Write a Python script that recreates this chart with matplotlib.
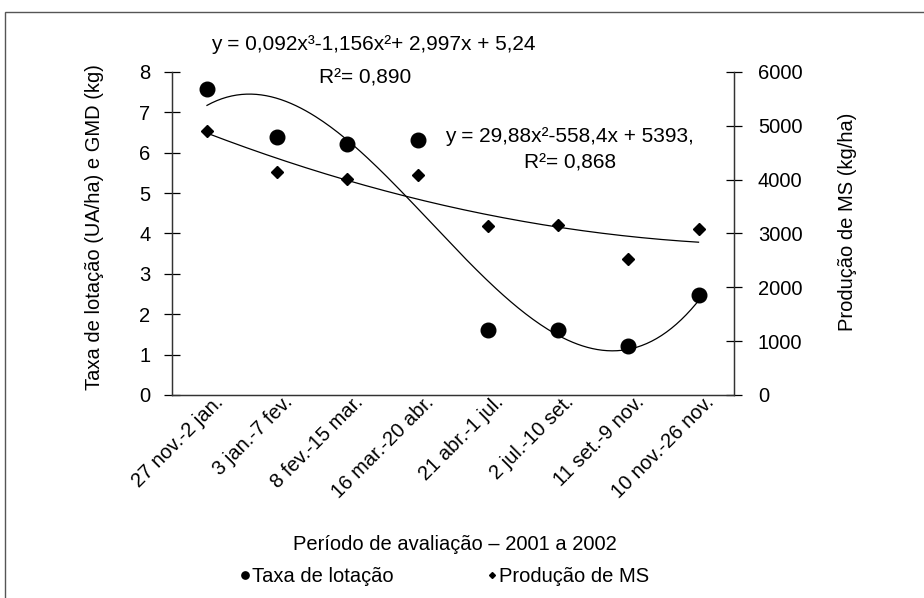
import matplotlib.pyplot as plt
import numpy as np
from matplotlib.patches import Rectangle
from matplotlib.transforms import ScaledTranslation

plt.rcParams['font.family'] = ['Liberation Sans', 'DejaVu Sans']

periodos = ['27 nov.-2 jan.', '3 jan.-7 fev.', '8 fev.-15 mar.', '16 mar.-20 abr.',
            '21 abr.-1 jul.', '2 jul.-10 set.', '11 set.-9 nov.', '10 nov.-26 nov.']
taxa_lotacao = [7.57, 6.40, 6.21, 6.32, 1.61, 1.61, 1.22, 2.48]
producao_ms = [4910, 4140, 4017, 4091, 3130, 3155, 2522, 3080]

# trendline coefficients as printed on the chart
coef_taxa = [0.092, -1.156, 2.997, 5.24]
coef_ms = [29.88, -558.4, 5393]

fs = 14.5

x = np.arange(1, len(periodos) + 1)
xs = np.linspace(1, len(periodos), 200)

fig = plt.figure(figsize=(9.24, 5.98), dpi=100)
ax = fig.add_axes([0.186, 0.3395, 0.608, 0.5401])
ax2 = ax.twinx()

l1, = ax.plot(x, taxa_lotacao, 'o', color='black', markersize=10.5, label='Taxa de lotação')
ax.plot(xs, np.polyval(coef_taxa, xs), color='black', lw=0.9)
l2, = ax2.plot(x, producao_ms, 'D', color='black', markersize=6, label='Produção de MS')
ax2.plot(xs, np.polyval(coef_ms, xs), color='black', lw=0.9)

ax.set_xlim(0.5, len(periodos) + 0.5)
ax.set_ylim(0, 8)
ax2.set_ylim(0, 6000)
ax.set_yticks(range(0, 9))
ax2.set_yticks(range(0, 6001, 1000))
ax.set_xticks(x)
ax.set_xticklabels(periodos, rotation=45, ha='right', va='center', rotation_mode='anchor', fontsize=fs)
ax.tick_params(axis='x', length=0, pad=3)
shift = ScaledTranslation(0.13, 0, fig.dpi_scale_trans)
for lab in ax.get_xticklabels():
    lab.set_transform(lab.get_transform() + shift)
ax.tick_params(axis='y', direction='inout', length=11, width=0.9, labelsize=fs, pad=10)
ax2.tick_params(axis='y', direction='inout', length=11, width=0.9, labelsize=fs, pad=12)

for a in (ax, ax2):
    a.spines['top'].set_visible(False)
    for s in a.spines.values():
        s.set_color('#333333')
        s.set_linewidth(0.9)

ax.set_ylabel('Taxa de lotação (UA/ha) e GMD (kg)', fontsize=fs)
ax.yaxis.set_label_coords(-0.12, 0.52)
ax2.set_ylabel('Produção de MS (kg/ha)', fontsize=fs)
ax2.yaxis.set_label_coords(1.186, 0.535)
ax.set_xlabel('Período de avaliação – 2001 a 2002', fontsize=fs)
ax.xaxis.set_label_coords(0.504, -0.432)

eq_font = ['Liberation Sans Narrow', 'Liberation Sans', 'DejaVu Sans']
fig.text(373 / 924, 1 - 45 / 598, 'y = 0,092x³-1,156x²+ 2,997x + 5,24', ha='center', va='center',
         fontsize=15, family=eq_font)
fig.text(365 / 924, 1 - 78 / 598, 'R²= 0,890', ha='center', va='center', fontsize=15, family=eq_font)
fig.text(445 / 924, 1 - 136 / 598, 'y = 29,88x²-558,4x + 5393,', ha='left', va='center',
         fontsize=15, family=eq_font)
fig.text(570 / 924, 1 - 163 / 598, 'R²= 0,868', ha='center', va='center', fontsize=15, family=eq_font)

for h, xpos in ((l1, 240), (l2, 487)):
    fig.legend(handles=[h], loc='center left', bbox_to_anchor=(xpos / 924, 1 - 577 / 598),
               frameon=False, markerscale=0.5, handlelength=0.5, handletextpad=0.1,
               borderpad=0, borderaxespad=0, fontsize=fs)

fig.patches.append(Rectangle((5 / 924, -0.1), 1.2, 1.1 - 12 / 598, transform=fig.transFigure,
                             fill=False, edgecolor='#555555', lw=1))

fig.savefig('out.png', dpi=100)
